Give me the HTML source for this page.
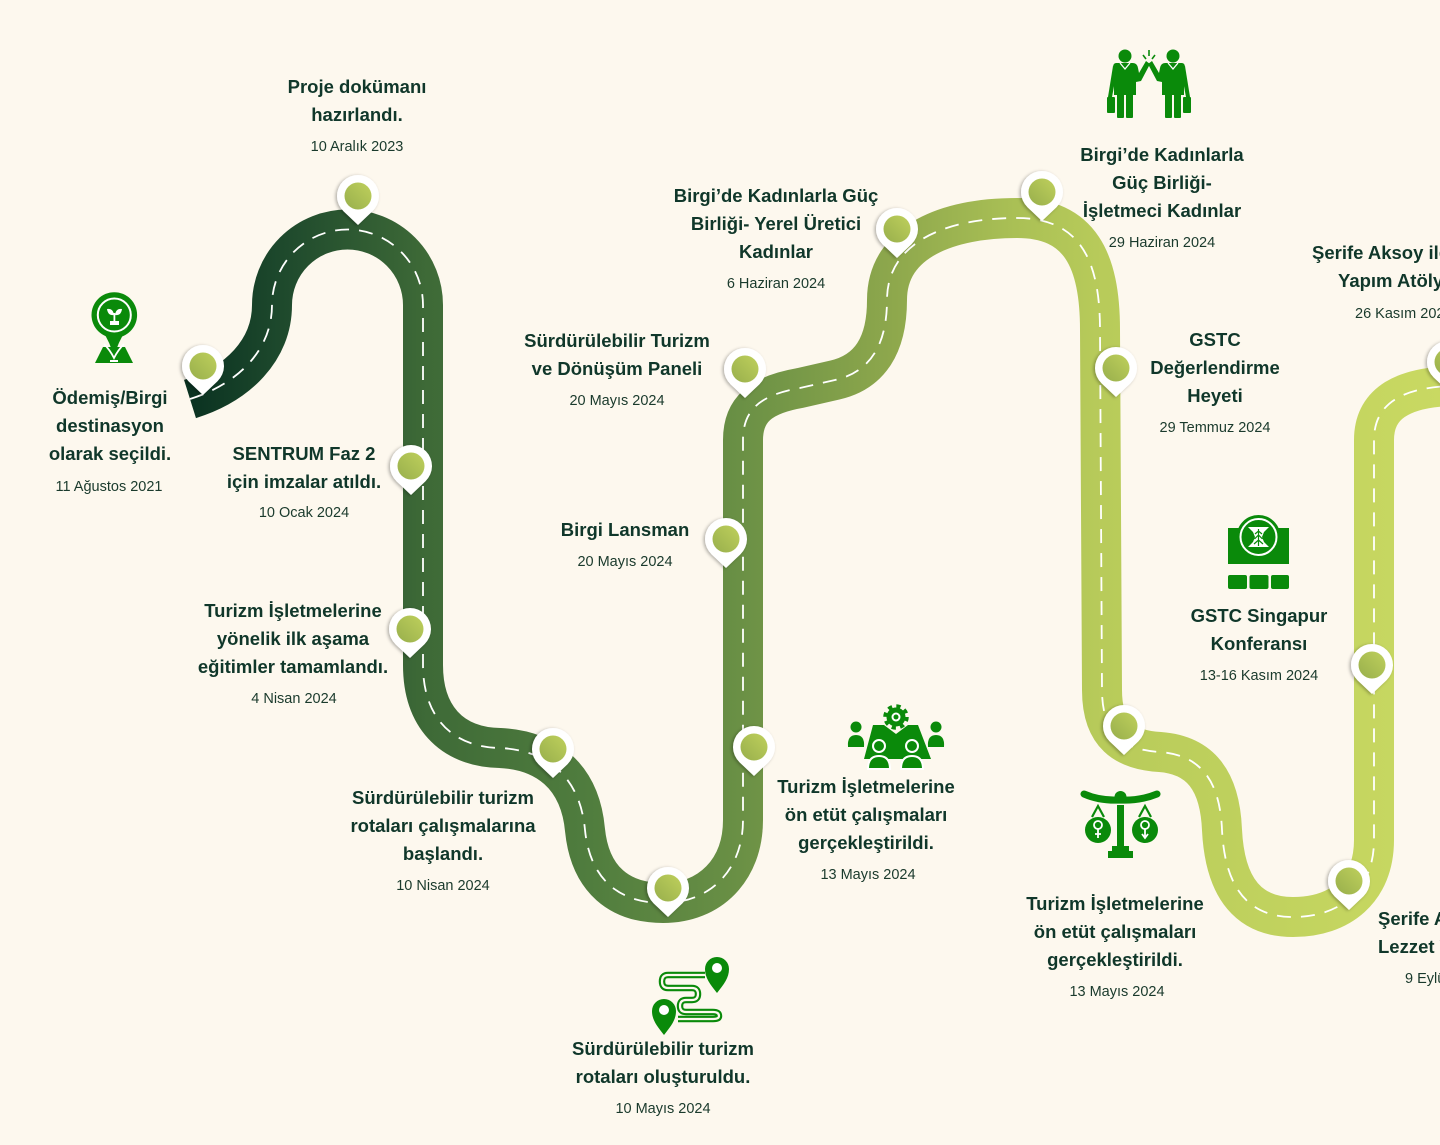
<!DOCTYPE html>
<html><head><meta charset="utf-8">
<style>
html,body{margin:0;padding:0;background:#fdf8ee;}
body{width:1440px;height:1145px;overflow:hidden;}
svg{display:block;}
.t{font-family:"Liberation Sans",sans-serif;font-weight:bold;font-size:18.5px;fill:#10372a;text-anchor:middle;}
.d{font-family:"Liberation Sans",sans-serif;font-size:14.5px;fill:#1a3a2c;text-anchor:middle;}
.l{text-anchor:start;}
</style></head><body>
<svg width="1440" height="1145" viewBox="0 0 1440 1145" xmlns="http://www.w3.org/2000/svg">
<defs>
<linearGradient id="rg" gradientUnits="userSpaceOnUse" x1="190" y1="0" x2="1440" y2="0">
<stop offset="0" stop-color="#0a3221"/>
<stop offset="0.07" stop-color="#1d482c"/>
<stop offset="0.19" stop-color="#3e6a37"/>
<stop offset="0.32" stop-color="#507d3e"/>
<stop offset="0.44" stop-color="#6a9045"/>
<stop offset="0.56" stop-color="#8da74c"/>
<stop offset="0.66" stop-color="#aac055"/>
<stop offset="0.73" stop-color="#b8cb5a"/>
<stop offset="1" stop-color="#c9d962"/>
</linearGradient>
<linearGradient id="pg" x1="1" y1="0" x2="0" y2="1">
<stop offset="0" stop-color="#bfd05c"/>
<stop offset="1" stop-color="#98af4c"/>
</linearGradient>
<filter id="sh" x="-50%" y="-50%" width="200%" height="200%">
<feDropShadow dx="-1.5" dy="0.8" stdDeviation="1.6" flood-color="#000" flood-opacity="0.3"/>
</filter>
<g id="pin">
<path d="M-14.5 15.2 A21 21 0 1 1 14.5 15.2 L0 29 Z" fill="#fff" filter="url(#sh)"/>
<circle cx="0" cy="0" r="13.5" fill="url(#pg)"/>
</g>
</defs>

<!-- ROAD -->
<path d="M190 399 C238 384 272 350 272 305 A75.5 75.5 0 0 1 423 305 L423 665 C423 715 450 747 500 748 C545 750 580 775 585 830 C590 880 620 903 663 903 C710 903 743 870 743 820 L743 440 C743 410 760 395 800 388 L835 380 C870 372 887 345 887 300 C887 240 950 218 1017 218 C1080 218 1100 260 1100 330 L1102 690 C1102 735 1125 750 1160 752 C1200 755 1220 780 1222 830 C1225 890 1250 917 1293 917 C1340 917 1374 890 1374 840 L1374 440 C1374 405 1400 388 1450 386" fill="none" stroke="url(#rg)" stroke-width="40"/>
<path d="M190 399 C238 384 272 350 272 305 A75.5 75.5 0 0 1 423 305 L423 665 C423 715 450 747 500 748 C545 750 580 775 585 830 C590 880 620 903 663 903 C710 903 743 870 743 820 L743 440 C743 410 760 395 800 388 L835 380 C870 372 887 345 887 300 C887 240 950 218 1017 218 C1080 218 1100 260 1100 330 L1102 690 C1102 735 1125 750 1160 752 C1200 755 1220 780 1222 830 C1225 890 1250 917 1293 917 C1340 917 1374 890 1374 840 L1374 440 C1374 405 1400 388 1450 386" fill="none" stroke="#fff" stroke-width="1.8" stroke-dasharray="14 10"/>

<!-- PINS -->
<use href="#pin" x="203" y="366"/>
<use href="#pin" x="358" y="196"/>
<use href="#pin" x="411" y="466"/>
<use href="#pin" x="410" y="629"/>
<use href="#pin" x="553" y="749"/>
<use href="#pin" x="668" y="888"/>
<use href="#pin" x="754" y="747"/>
<use href="#pin" x="726" y="539"/>
<use href="#pin" x="745" y="369"/>
<use href="#pin" x="897" y="229"/>
<use href="#pin" x="1042" y="192"/>
<use href="#pin" x="1116" y="368"/>
<use href="#pin" x="1124" y="726"/>
<use href="#pin" x="1372" y="665"/>
<use href="#pin" x="1349" y="881"/>
<use href="#pin" x="1448" y="362"/>

<!-- ICON: plant pin -->
<g fill="#0a8a0a">
<path d="M103 347 L125 347 L133 363 L95 363 Z"/>
<path d="M102 330 Q110 342 114 357 Q118 342 126 330 Z"/>
<path d="M104 344 Q110 350 114 358 Q118 350 124 344" fill="none" stroke="#fff" stroke-width="1.8"/>
<circle cx="114.3" cy="315" r="22.8"/>
<circle cx="114.3" cy="315" r="16.5" fill="none" stroke="#fff" stroke-width="2"/>
</g>
<g fill="#fff">
<rect x="110" y="321" width="9" height="4"/>
<rect x="113.5" y="313" width="1.8" height="9"/>
<path d="M114 315 Q108 316 107 309 Q113 308 114 315 Z"/>
<path d="M115 315 Q121 316 122 309 Q116 308 115 315 Z"/>
<rect x="110" y="360" width="8" height="2"/>
</g>

<!-- ICON: women -->
<g fill="#0a8a0a" id="wm">
<circle cx="1125" cy="56" r="6.5"/>
<path d="M1116 63 H1133 Q1137 63 1138 68 L1139 73 L1146 61 L1150 64 L1141 81 L1136 82 L1136 95 L1114 95 L1114 82 L1113 68 Q1113 63 1116 63 Z"/>
<path d="M1113 66 L1108 97 L1112 97 L1117 70 Z"/>
<rect x="1117" y="93" width="7" height="25" rx="1"/>
<rect x="1126" y="93" width="7" height="25" rx="1"/>
<rect x="1107" y="97" width="8" height="16" rx="1"/>
<path d="M1120 63 L1125 69 L1130 63" fill="none" stroke="#fff" stroke-width="1.3"/>
</g>
<use href="#wm" transform="translate(2298,0) scale(-1,1)"/>
<g stroke="#0a8a0a" stroke-width="1.6" fill="none">
<path d="M1143 55 L1146 59"/><path d="M1149 50 L1149 56"/><path d="M1155 55 L1152 59"/>
</g>

<!-- ICON: GSTC -->
<g fill="#0a8a0a">
<rect x="1228" y="528" width="61" height="36"/>
<circle cx="1258.5" cy="537" r="22"/>
<rect x="1228" y="575" width="19" height="14" rx="2"/>
<rect x="1249.5" y="575" width="19" height="14" rx="2"/>
<rect x="1271" y="575" width="18" height="14" rx="2"/>
</g>
<circle cx="1258.5" cy="537" r="18" fill="none" stroke="#fff" stroke-width="2"/>
<path d="M1248 527 L1269 527 L1264 532 L1262 537 L1264 542 L1269 547 L1248 547 L1253 542 L1255 537 L1253 532 Z" fill="#fff"/>
<path d="M1258.5 529 L1258.5 546 M1255 534 L1258.5 531 L1262 534 M1254.5 539 L1258.5 535 L1262.5 539 M1254 544 L1258.5 540 L1263 544" stroke="#0a8a0a" stroke-width="1.2" fill="none"/>

<!-- ICON: meeting -->
<g fill="#0a8a0a">
<circle cx="896" cy="717" r="10.5" fill="none" stroke="#0a8a0a" stroke-width="4.5" stroke-dasharray="4.1 4.15"/>
<circle cx="896" cy="717" r="9.5"/>
<path d="M873 725 L884 725 L896 734 L908 725 L918 725 L931 759 L864 759 Z"/>
<circle cx="856" cy="727" r="5.5"/>
<path d="M848 747 Q847 735 856 735 Q865 735 864 747 Z"/>
<circle cx="936" cy="727" r="5.5"/>
<path d="M928 747 Q927 735 936 735 Q945 735 944 747 Z"/>
<path d="M868 769 Q868 756 879 756 Q890 756 890 769 Z" stroke="#fff" stroke-width="2"/>
<circle cx="879" cy="746" r="6" stroke="#fff" stroke-width="2"/>
<path d="M901 769 Q901 756 912 756 Q923 756 923 769 Z" stroke="#fff" stroke-width="2"/>
<circle cx="912" cy="746" r="6" stroke="#fff" stroke-width="2"/>
</g>
<circle cx="896" cy="717" r="4.5" fill="#fff"/>
<circle cx="896" cy="717" r="2.5" fill="#0a8a0a"/>

<!-- ICON: scale -->
<g fill="#0a8a0a">
<path d="M1084 794 Q1100 801 1120 800 Q1140 801 1157 794" fill="none" stroke="#0a8a0a" stroke-width="7" stroke-linecap="round"/>
<circle cx="1120.5" cy="797" r="6"/>
<rect x="1117" y="805" width="7" height="43"/>
<rect x="1112" y="846" width="17" height="5"/>
<rect x="1108" y="851" width="25" height="7"/>
<circle cx="1098" cy="830" r="13"/>
<circle cx="1145" cy="830" r="13"/>
<path d="M1092 817 L1098 806 L1104 817 M1139 817 L1145 806 L1151 817" fill="none" stroke="#0a8a0a" stroke-width="2.2"/>
</g>
<g fill="none" stroke="#fff" stroke-width="1.8">
<circle cx="1098" cy="825" r="4"/><path d="M1098 829 L1098 838 M1095 834 L1101 834"/>
<circle cx="1145" cy="825" r="4"/><path d="M1145 829 L1145 837 M1142 834 L1145 838 L1148 834"/>
</g>

<!-- ICON: route -->
<path d="M705 975 L668 975 Q662 975 662 981.5 Q662 988 668 988 L692 988 Q698 988 698 994 Q698 1000 692 1000 L686 1000 Q680 1000 680 1006 Q680 1012 686 1012 L713 1012 Q719 1012 719 1016 Q719 1019 713 1019 L678 1019" fill="none" stroke="#0a8a0a" stroke-width="6.5" stroke-linejoin="round"/>
<path d="M705 975 L668 975 Q662 975 662 981.5 Q662 988 668 988 L692 988 Q698 988 698 994 Q698 1000 692 1000 L686 1000 Q680 1000 680 1006 Q680 1012 686 1012 L713 1012 Q719 1012 719 1016 Q719 1019 713 1019 L678 1019" fill="none" stroke="#fdf8ee" stroke-width="2.2" stroke-linejoin="round"/>
<path d="M717 993 C710 984 705 978 705 969 A12 12 0 1 1 729 969 C729 978 724 984 717 993 Z" fill="#0a8a0a"/>
<circle cx="717" cy="968" r="5" fill="#fff"/>
<path d="M664 1035 C657 1026 652 1020 652 1011 A12 12 0 1 1 676 1011 C676 1020 671 1026 664 1035 Z" fill="#0a8a0a"/>
<circle cx="664" cy="1010" r="5" fill="#fff"/>

<!-- TEXTS -->
<text class="t" x="357" y="93">Proje dokümanı</text>
<text class="t" x="357" y="121">hazırlandı.</text>
<text class="d" x="357" y="151">10 Aralık 2023</text>

<text class="t" x="110" y="404">Ödemiş/Birgi</text>
<text class="t" x="110" y="432">destinasyon</text>
<text class="t" x="110" y="460">olarak seçildi.</text>
<text class="d" x="109" y="491">11 Ağustos 2021</text>

<text class="t" x="304" y="460">SENTRUM Faz 2</text>
<text class="t" x="304" y="488">için imzalar atıldı.</text>
<text class="d" x="304" y="517">10 Ocak 2024</text>

<text class="t" x="293" y="617">Turizm İşletmelerine</text>
<text class="t" x="293" y="645">yönelik ilk aşama</text>
<text class="t" x="293" y="673">eğitimler tamamlandı.</text>
<text class="d" x="294" y="703">4 Nisan 2024</text>

<text class="t" x="443" y="804">Sürdürülebilir turizm</text>
<text class="t" x="443" y="832">rotaları çalışmalarına</text>
<text class="t" x="443" y="860">başlandı.</text>
<text class="d" x="443" y="890">10 Nisan 2024</text>

<text class="t" x="663" y="1055">Sürdürülebilir turizm</text>
<text class="t" x="663" y="1083">rotaları oluşturuldu.</text>
<text class="d" x="663" y="1113">10 Mayıs 2024</text>

<text class="t" x="625" y="536">Birgi Lansman</text>
<text class="d" x="625" y="566">20 Mayıs 2024</text>

<text class="t" x="617" y="347">Sürdürülebilir Turizm</text>
<text class="t" x="617" y="375">ve Dönüşüm Paneli</text>
<text class="d" x="617" y="405">20 Mayıs 2024</text>

<text class="t" x="776" y="202">Birgi’de Kadınlarla Güç</text>
<text class="t" x="776" y="230">Birliği- Yerel Üretici</text>
<text class="t" x="776" y="258">Kadınlar</text>
<text class="d" x="776" y="288">6 Haziran 2024</text>

<text class="t" x="866" y="793">Turizm İşletmelerine</text>
<text class="t" x="866" y="821">ön etüt çalışmaları</text>
<text class="t" x="866" y="849">gerçekleştirildi.</text>
<text class="d" x="868" y="879">13 Mayıs 2024</text>

<text class="t" x="1162" y="161">Birgi’de Kadınlarla</text>
<text class="t" x="1162" y="189">Güç Birliği-</text>
<text class="t" x="1162" y="217">İşletmeci Kadınlar</text>
<text class="d" x="1162" y="247">29 Haziran 2024</text>

<text class="t" x="1215" y="346">GSTC</text>
<text class="t" x="1215" y="374">Değerlendirme</text>
<text class="t" x="1215" y="402">Heyeti</text>
<text class="d" x="1215" y="432">29 Temmuz 2024</text>

<text class="t" x="1259" y="622">GSTC Singapur</text>
<text class="t" x="1259" y="650">Konferansı</text>
<text class="d" x="1259" y="680">13-16 Kasım 2024</text>

<text class="t" x="1115" y="910">Turizm İşletmelerine</text>
<text class="t" x="1115" y="938">ön etüt çalışmaları</text>
<text class="t" x="1115" y="966">gerçekleştirildi.</text>
<text class="d" x="1117" y="996">13 Mayıs 2024</text>

<text class="t l" x="1312" y="259">Şerife Aksoy ile Tarhana</text>
<text class="t l" x="1338" y="287">Yapım Atölyesi</text>
<text class="d l" x="1355" y="318">26 Kasım 2024</text>

<text class="t l" x="1378" y="925">Şerife Aksoy ile</text>
<text class="t l" x="1378" y="953">Lezzet Yolculuğu</text>
<text class="d l" x="1405" y="983">9 Eylül 2024</text>
</svg>
</body></html>
